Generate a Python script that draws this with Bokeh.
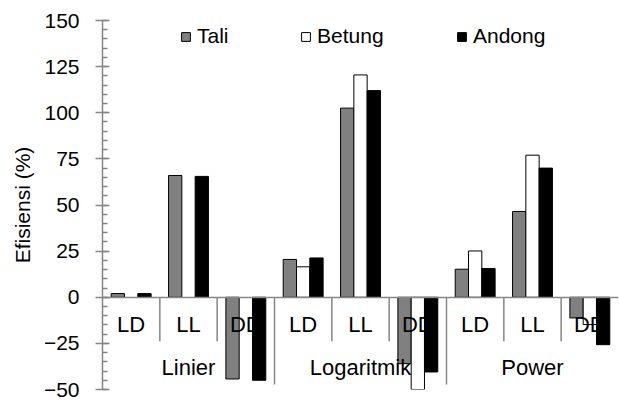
import numpy as np
from bokeh.plotting import figure
from bokeh.models import (ColumnDataSource, FactorRange, Range1d, FixedTicker,
                          Legend, LegendItem)
from bokeh.transform import dodge
from bokeh.embed import file_html
from bokeh.resources import INLINE

# ---- data ----
groups = ["Linier", "Logaritmik", "Power"]
subs = ["LD", "LL", "DD"]
series = ["Tali", "Betung", "Andong"]
tali = [2, 66, -44.3, 20.5, 102.5, -36, 15.2, 46.5, -11.2]
betung = [np.nan, np.nan, np.nan, 16.5, 120.5, -50, 25.1, 77, -14.8]
andong = [2, 65.5, -45, 21.3, 112, -40.5, 15.6, 70, -25.7]
y_ticks = [-50, -25, 0, 25, 50, 75, 100, 125, 150]
y_label = "Efisiensi (%)"

FONT = "Liberation Sans"
GRAY = "#868686"

factors = [(g, s) for g in groups for s in subs]
src = ColumnDataSource(dict(cat=factors,
                            Tali=np.array(tali, dtype=float),
                            Betung=np.array(betung, dtype=float),
                            Andong=np.array(andong, dtype=float)))

p = figure(width=619, height=403, output_backend="svg", toolbar_location=None,
           x_range=FactorRange(*factors, group_padding=0, factor_padding=0,
                               range_padding=0),
           y_range=Range1d(y_ticks[0], y_ticks[-1]),
           min_border_left=102, min_border_right=1, min_border_top=20,
           min_border_bottom=14)
p.outline_line_color = None
p.grid.visible = False
p.background_fill_color = "white"
p.border_fill_color = "white"

# dividers between categories (drawn below the zero line)
div_x, div_y1 = [], []
for gi, g in enumerate(groups):
    for si, s in enumerate(subs):
        if gi == len(groups) - 1 and si == len(subs) - 1:
            continue
        div_x.append((g, s, 0.5))
        div_y1.append(-47.3 if si == len(subs) - 1 else -23.9)
p.segment(x0=div_x, x1=div_x, y0=[0] * len(div_x), y1=div_y1,
          line_color=GRAY, line_width=1.5)

bw = 0.232
fills = {"Tali": "#808080", "Betung": "white", "Andong": "black"}
offs = {"Tali": -bw, "Betung": 0.0, "Andong": bw}
rends = {}
for s in series:
    rends[s] = p.vbar(x=dodge("cat", offs[s], range=p.x_range), top=s, bottom=0,
                      width=bw, source=src, fill_color=fills[s],
                      line_color="black", line_width=1)

# y axis
ya = p.yaxis[0]
ya.ticker = FixedTicker(ticks=y_ticks, minor_ticks=list(np.arange(y_ticks[0], y_ticks[-1] + 1, 5)))
ya.axis_line_color = GRAY
ya.axis_line_width = 1.5
ya.major_tick_line_color = GRAY
ya.major_tick_line_width = 1.5
ya.minor_tick_line_color = GRAY
ya.minor_tick_line_width = 1.5
ya.major_tick_in = 7
ya.major_tick_out = 7
ya.minor_tick_in = 5
ya.minor_tick_out = 0
ya.major_label_text_font = FONT
ya.major_label_text_font_size = "21px"
ya.major_label_text_color = "black"
ya.major_label_standoff = 16
ya.axis_label = y_label
ya.axis_label_text_font = FONT
ya.axis_label_text_font_size = "21px"
ya.axis_label_text_font_style = "normal"
ya.axis_label_text_color = "black"
ya.axis_label_standoff = 7

# x axis at zero
xa = p.xaxis[0]
xa.fixed_location = 0
xa.axis_line_color = GRAY
xa.axis_line_width = 1.5
xa.major_tick_line_color = None
xa.minor_tick_line_color = None
xa.major_tick_in = 0
xa.major_tick_out = 0
xa.separator_line_color = None
xa.major_label_text_font = FONT
xa.major_label_text_font_size = "22px"
xa.major_label_text_color = "black"
xa.major_label_standoff = 15
xa.group_text_font = FONT
xa.group_text_font_size = "22px"
xa.group_text_font_style = "normal"
xa.group_text_color = "black"

# legends
leg_x = [78, 198, 354]
for s, lx in zip(series, leg_x):
    lg = Legend(items=[LegendItem(label=s, renderers=[rends[s]])],
                location=(lx, 341), orientation="horizontal",
                border_line_color=None, background_fill_alpha=0,
                padding=0, margin=0, spacing=0,
                glyph_width=11, glyph_height=11, label_standoff=6,
                label_text_font=FONT, label_text_font_size="21px",
                label_text_color="black")
    p.add_layout(lg)

open("out.html", "w").write(file_html(p, INLINE))
